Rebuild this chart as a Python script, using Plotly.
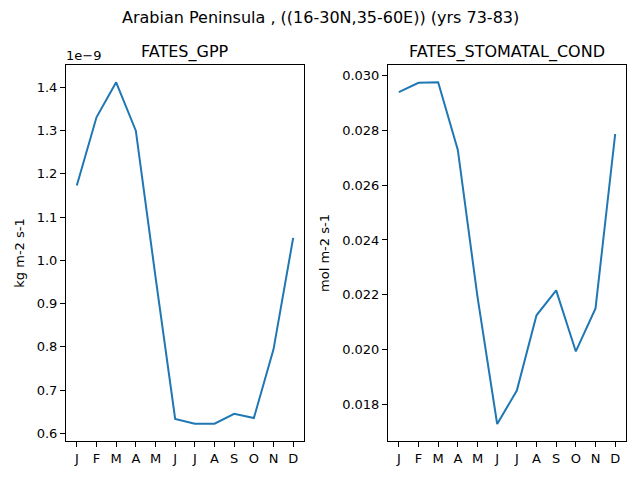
import plotly.graph_objects as go

# monthly climatology, Arabian Peninsula, years 73-83
months = ['J', 'F', 'M', 'A', 'M', 'J', 'J', 'A', 'S', 'O', 'N', 'D']
gpp = [1.173e-9, 1.331e-9, 1.412e-9, 1.300e-9, 0.962e-9, 0.633e-9,
       0.622e-9, 0.622e-9, 0.645e-9, 0.635e-9, 0.794e-9, 1.052e-9]
stomatal_cond = [0.02940, 0.02974, 0.02976, 0.02729, 0.02192, 0.01728,
                 0.01850, 0.02125, 0.02216, 0.01993, 0.02150, 0.02787]
gpp_ticks = [0.6, 0.7, 0.8, 0.9, 1.0, 1.1, 1.2, 1.3, 1.4]
cond_ticks = [0.018, 0.020, 0.022, 0.024, 0.026, 0.028, 0.030]

scale = 1e-9
gpp_scaled = [v / scale for v in gpp]
x = list(range(len(months)))

W, H = 640, 480
OFF = 8  # page body margin shifts the plot by this much


def px(v):
    return (v - OFF) / W


def py(v):
    return 1 - (v - OFF) / H


font = dict(family="DejaVu Sans", size=13, color="black")
big = dict(family="DejaVu Sans", size=16, color="black")
blue = "#1f77b4"

fig = go.Figure()
fig.add_trace(go.Scatter(x=x, y=gpp_scaled, mode="lines",
                         line=dict(color=blue, width=2), xaxis="x", yaxis="y"))
fig.add_trace(go.Scatter(x=x, y=stomatal_cond, mode="lines",
                         line=dict(color=blue, width=2), xaxis="x2", yaxis="y2"))

axis_style = dict(showline=True, linecolor="black", linewidth=1, mirror=True,
                  ticks="outside", ticklen=5, tickcolor="black", showgrid=False,
                  zeroline=False, tickfont=font)

fig.update_layout(
    width=W, height=H, margin=dict(l=0, r=0, t=0, b=0),
    paper_bgcolor="white", plot_bgcolor="white", showlegend=False, font=font,
    xaxis=dict(domain=[px(66), px(304)], range=[-0.55, 11.55], tickvals=x,
               ticktext=months, anchor="y", **axis_style),
    yaxis=dict(domain=[py(441), py(65)], range=[0.582, 1.452], tickvals=gpp_ticks,
               ticktext=[f"{t:.1f}" for t in gpp_ticks], anchor="x",
               title=dict(text="kg m-2 s-1", font=font, standoff=9), **axis_style),
    xaxis2=dict(domain=[px(388), px(626)], range=[-0.55, 11.55], tickvals=x,
                ticktext=months, anchor="y2", **axis_style),
    yaxis2=dict(domain=[py(441), py(65)], range=[0.01666, 0.03039], tickvals=cond_ticks,
                ticktext=[f"{t:.3f}" for t in cond_ticks], anchor="x2",
                title=dict(text="mol m-2 s-1", font=font, standoff=9), **axis_style),
    annotations=[
        dict(text="Arabian Peninsula , ((16-30N,35-60E)) (yrs 73-83)", x=px(320), y=py(17),
             xref="paper", yref="paper", showarrow=False, xanchor="center",
             yanchor="middle", font=big),
        dict(text="FATES_GPP", x=px(185), y=py(52), xref="paper", yref="paper",
             showarrow=False, xanchor="center", yanchor="middle", font=big),
        dict(text="FATES_STOMATAL_COND", x=px(507), y=py(52), xref="paper", yref="paper",
             showarrow=False, xanchor="center", yanchor="middle", font=big),
        dict(text="1e\u22129", x=px(64), y=py(56), xref="paper", yref="paper",
             showarrow=False, xanchor="left", yanchor="middle", font=font),
    ],
)

fig.write_html("out.html")
